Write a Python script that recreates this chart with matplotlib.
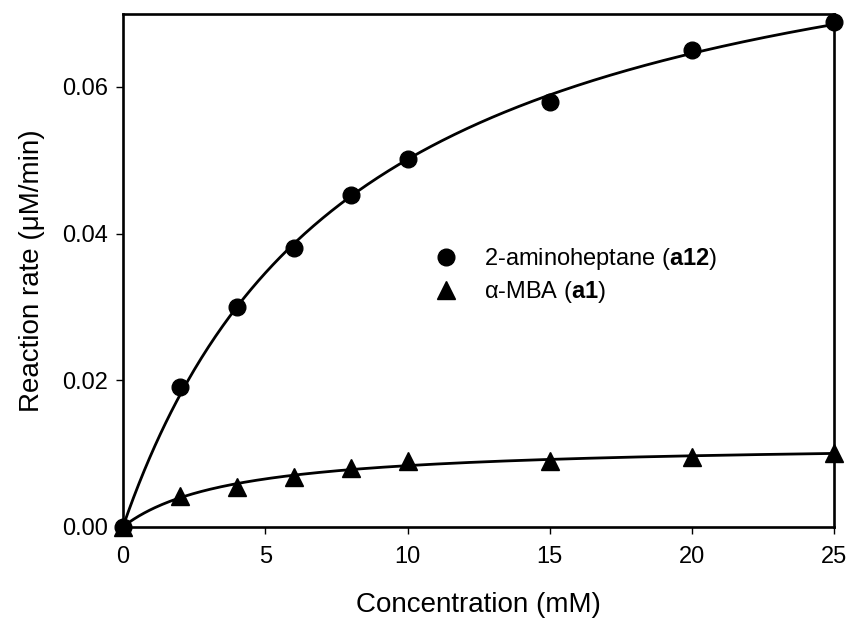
import numpy as np
import matplotlib
matplotlib.use("Agg")
import matplotlib.pyplot as plt
from matplotlib.lines import Line2D

plt.rcParams["font.family"] = ["Liberation Sans", "DejaVu Sans"]
plt.rcParams["mathtext.fontset"] = "custom"
plt.rcParams["mathtext.rm"] = "Liberation Sans"
plt.rcParams["mathtext.bf"] = "Liberation Sans:bold"

# substrate concentration (mM) and initial rates (uM/min)
conc = [0, 2, 4, 6, 8, 10, 15, 20, 25]
rate_a12 = [0.0, 0.0190, 0.0300, 0.0380, 0.0452, 0.0501, 0.0580, 0.0650, 0.0689]
rate_a1 = [0.0, 0.0042, 0.0054, 0.0068, 0.0080, 0.0090, 0.0090, 0.0095, 0.0100]

label_a12 = "2-aminoheptane ($\\mathbf{a12}$)"
label_a1 = "\u03b1-MBA ($\\mathbf{a1}$)"


def fit_mm(x, y):
    # least squares Michaelis-Menten: scan Km, Vmax is linear for each Km
    x = np.asarray(x, float)
    y = np.asarray(y, float)
    best = None
    for km in np.linspace(0.05, 60, 6000):
        f = x / (km + x)
        vmax = np.dot(f, y) / np.dot(f, f)
        err = np.sum((y - vmax * f) ** 2)
        if best is None or err < best[0]:
            best = (err, vmax, km)
    return best[1], best[2]


fig = plt.figure(figsize=(8.48, 6.19), dpi=100)
ax = fig.add_axes([0.145, 0.149, 0.839, 0.829])

xs = np.linspace(0, 25, 400)
for y, marker, ms in [(rate_a12, "o", 12), (rate_a1, "^", 13)]:
    vmax, km = fit_mm(conc, y)
    ax.plot(xs, vmax * xs / (km + xs), color="black", lw=2.0, zorder=3)
    ax.plot(conc, y, linestyle="none", marker=marker, color="black",
            markersize=ms, zorder=4, clip_on=False)

ax.set_xlim(0, 25)
ax.set_ylim(0, 0.07)
ax.set_xticks([0, 5, 10, 15, 20, 25])
ax.set_yticks([0.0, 0.02, 0.04, 0.06])
ax.set_yticklabels(["0.00", "0.02", "0.04", "0.06"])

for s in ax.spines.values():
    s.set_linewidth(1.9)
ax.tick_params(direction="out", length=5, width=1, labelsize=17,
               top=False, right=False)
ax.tick_params(axis="x", pad=9)
ax.tick_params(axis="y", pad=6)

ax.set_xlabel("Concentration (mM)", fontsize=20, labelpad=17)
ax.set_ylabel("Reaction rate (\u03bcM/min)", fontsize=20, labelpad=12)

handles = [
    Line2D([], [], linestyle="none", marker="o", color="black", markersize=12),
    Line2D([], [], linestyle="none", marker="^", color="black", markersize=13),
]
ax.legend(handles, [label_a12, label_a1], frameon=False, fontsize=17,
          loc="center left", bbox_to_anchor=(0.408, 0.489),
          handlelength=1.0, handletextpad=1.1, labelspacing=0.3)

fig.savefig("out.png", dpi=100)
